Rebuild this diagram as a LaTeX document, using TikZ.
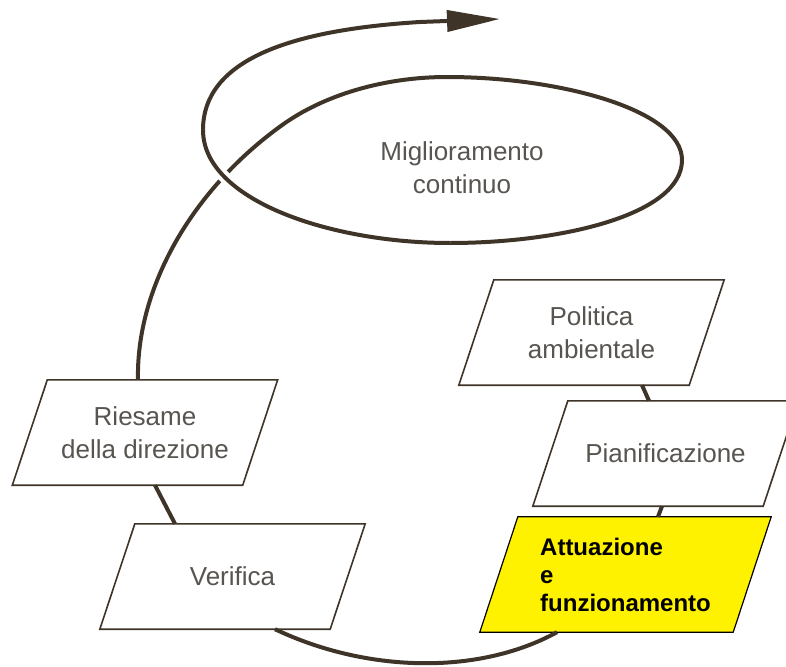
\documentclass[tikz,border=0pt]{standalone}
\usepackage{fontspec}
\setmainfont{Liberation Sans}
\usetikzlibrary{arrows.meta,backgrounds}

\definecolor{spiralbrown}{RGB}{62,52,40}
\definecolor{labelgray}{RGB}{88,84,80}

\tikzset{
  stagelabel/.style={minimum width=230pt, minimum height=105pt, inner sep=0pt,
    align=center, text=labelgray, font=\fontsize{26}{33}\selectfont},
  stageframe/.style={draw=spiralbrown, line width=1.6pt, fill=white},
  spiral/.style={draw=spiralbrown, line width=4pt}
}

\begin{document}
\begin{tikzpicture}[x=1pt, y=1pt]
    % Page frame
    \useasboundingbox (0,0) rectangle (786,-666);

    % Stages of the cycle
    \node[stagelabel] (politica) at (591.5,-332.5) {Politica\\ambientale};
    \node[stagelabel] (pianif) at (665.5,-453.5) {Pianificazione};
    \node[stagelabel, minimum width=253pt, minimum height=115pt, align=left, text=black,
      font=\bfseries\fontsize{24}{28}\selectfont] (attuazione) at (625.5,-574.5) {Attuazione\\e\\funzionamento};
    \node[stagelabel] (verifica) at (232.5,-576.5) {Verifica};
    \node[stagelabel] (riesame) at (145,-432.5) {Riesame\\della direzione};
    \node[stagelabel] (miglior) at (462,-168) {Miglioramento\\continuo};

    % Slanted frames behind the labels
    \begin{scope}[on background layer]
      \draw[stageframe] ([xshift=-17.5pt]politica.south west) -- ([xshift=-17.5pt]politica.south east)
        -- ([xshift=17.5pt]politica.north east) -- ([xshift=17.5pt]politica.north west) -- cycle;
      \draw[stageframe] ([xshift=-17.5pt]pianif.south west) -- ([xshift=-17.5pt]pianif.south east)
        -- ([xshift=17.5pt]pianif.north east) -- ([xshift=17.5pt]pianif.north west) -- cycle;
      \draw[stageframe, draw=black, line width=1.2pt, fill=yellow] ([xshift=-19pt]attuazione.south west)
        -- ([xshift=-19pt]attuazione.south east) -- ([xshift=19pt]attuazione.north east)
        -- ([xshift=19pt]attuazione.north west) -- cycle;
      \draw[stageframe] ([xshift=-17.5pt]verifica.south west) -- ([xshift=-17.5pt]verifica.south east)
        -- ([xshift=17.5pt]verifica.north east) -- ([xshift=17.5pt]verifica.north west) -- cycle;
      \draw[stageframe] ([xshift=-17.5pt]riesame.south west) -- ([xshift=-17.5pt]riesame.south east)
        -- ([xshift=17.5pt]riesame.north east) -- ([xshift=17.5pt]riesame.north west) -- cycle;
    \end{scope}

    % Spiral between the stages
    \draw[spiral] ([xshift=50.5pt]politica.south) -- ([xshift=-16.5pt]pianif.north);
    \draw[spiral] ([xshift=-3.5pt]pianif.south) -- ([xshift=32.5pt]attuazione.north);
    \draw[spiral] ([xshift=-68.5pt]attuazione.south) .. controls (477,-676) and (365,-672) .. ([xshift=42.5pt]verifica.south);
    \draw[spiral] ([xshift=-57.5pt]verifica.north) -- ([xshift=10pt]riesame.south);

    % Loop round the improvement label
    \coordinate (loopstart) at ([xshift=-7pt]riesame.north);
    \coordinate (tip) at (500,-19);
    \draw[spiral, -{Triangle[length=53pt, width=21pt]}] (loopstart)
      .. controls (136,-290) and (190,-190) .. (285,-123)
      .. controls (330,-92) and (390,-77) .. (447,-77)
      .. controls (560,-77) and (682,-110) .. (682,-160)
      .. controls (682,-215) and (560,-243) .. (450,-243)
      .. controls (330,-243) and (203,-200) .. (203,-130)
      .. controls (203,-60) and (290,-30) .. (420,-22)
      -- (tip);
    % Upper strand passes over the lower one
    \draw[spiral, preaction={draw=white, line width=12pt}] (450,-243)
      .. controls (330,-243) and (203,-200) .. (203,-130);
\end{tikzpicture}
\end{document}
